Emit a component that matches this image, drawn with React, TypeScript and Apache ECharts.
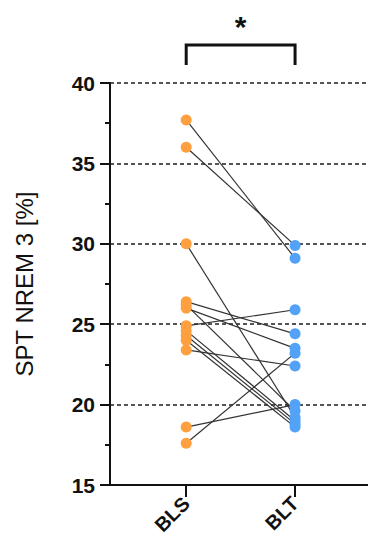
import React, { useEffect, useRef } from "react";
import * as echarts from "echarts";

// Paired SPT NREM 3 values per subject (BLS → BLT)
const groups = ["BLS", "BLT"];
const blsValues = [37.7, 36.0, 30.0, 26.4, 26.2, 26.0, 24.9, 24.6, 24.3, 24.0, 23.4, 18.6, 17.6];
const bltValues = [29.1, 29.9, 19.2, 24.4, 19.6, 23.5, 25.9, 19.0, 18.8, 18.6, 22.4, 20.0, 23.2];
const yTicks = [15, 20, 25, 30, 35, 40];
const significance = "*";

const FONT = "Liberation Sans, Arial, sans-serif";
const ORANGE = "#FFA040";
const BLUE = "#52A2F7";

export default function App() {
  const ref = useRef<HTMLDivElement>(null);

  useEffect(() => {
    if (!ref.current) return;
    const chart = echarts.init(ref.current, null, { renderer: "svg" });

    const pairSeries = blsValues.map((v, i) => ({
      type: "line",
      data: [
        [1, v],
        [2, bltValues[i]],
      ],
      symbol: "none",
      lineStyle: { color: "#333", width: 1.2 },
      z: 2,
      silent: true,
    }));

    chart.setOption({
      animation: false,
      grid: { left: 110, right: 0, top: 83, bottom: 63, containLabel: false },
      xAxis: {
        type: "value",
        min: 0.3,
        max: 2.67,
        splitLine: { show: false },
        axisLine: { show: true, lineStyle: { color: "#111", width: 2 } },
        axisTick: {
          show: true,
          customValues: [1, 2],
          length: 12,
          lineStyle: { color: "#111", width: 2 },
        },
        axisLabel: {
          customValues: [1, 2],
          formatter: (v: number) => groups[Math.round(v) - 1] ?? "",
          rotate: 45,
          margin: 15,
          fontFamily: FONT,
          fontWeight: "bold",
          fontSize: 20,
          color: "#111",
        },
      },
      yAxis: {
        type: "value",
        min: yTicks[0],
        max: yTicks[yTicks.length - 1],
        interval: 5,
        name: "SPT NREM 3 [%]",
        nameLocation: "middle",
        nameGap: 74,
        nameRotate: 90,
        nameTextStyle: { fontFamily: FONT, fontSize: 24, color: "#111" },
        axisLine: { show: true, lineStyle: { color: "#111", width: 2 } },
        axisTick: { show: true, length: 10, lineStyle: { color: "#111", width: 2 } },
        minorTick: { show: true, splitNumber: 2, length: 5, lineStyle: { color: "#111", width: 2 } },
        axisLabel: {
          margin: 15,
          fontFamily: FONT,
          fontWeight: "bold",
          fontSize: 21,
          color: "#111",
        },
        splitLine: {
          show: true,
          showMinLine: false,
          lineStyle: { color: "#555", width: 1.8, type: [4, 3] },
        },
      },
      series: [
        ...pairSeries,
        {
          type: "scatter",
          data: blsValues.map((v) => [1, v]),
          symbolSize: 11,
          itemStyle: { color: ORANGE, opacity: 1 },
          z: 3,
        },
        {
          type: "scatter",
          data: bltValues.map((v) => [2, v]),
          symbolSize: 11,
          itemStyle: { color: BLUE, opacity: 1 },
          z: 3,
        },
      ],
    });

    // Significance bracket between the two groups
    const p1 = chart.convertToPixel({ gridIndex: 0 }, [1, 40]) as number[];
    const p2 = chart.convertToPixel({ gridIndex: 0 }, [2, 40]) as number[];
    const top = p1[1] - 38;
    const bottom = p1[1] - 18;
    chart.setOption({
      graphic: [
        {
          type: "polyline",
          shape: {
            points: [
              [p1[0], bottom],
              [p1[0], top],
              [p2[0], top],
              [p2[0], bottom],
            ],
          },
          style: { stroke: "#111", lineWidth: 3, fill: "none" },
        },
        {
          type: "text",
          x: (p1[0] + p2[0]) / 2,
          y: top - 19,
          style: {
            text: significance,
            fontFamily: FONT,
            fontWeight: "bold",
            fontSize: 30,
            fill: "#111",
            align: "center",
            verticalAlign: "middle",
          },
        },
      ],
    });

    return () => chart.dispose();
  }, []);

  return (
    <div
      ref={ref}
      style={{ position: "fixed", left: 0, top: 0, width: 368, height: 548, background: "#fff" }}
    />
  );
}
